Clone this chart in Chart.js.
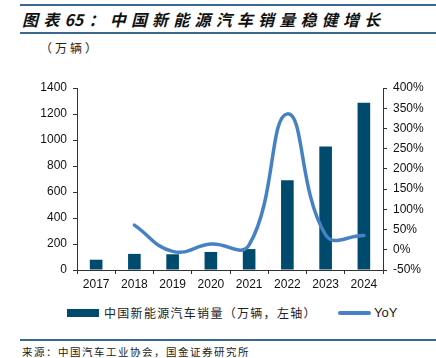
<!DOCTYPE html>
<html><head><meta charset="utf-8">
<script src="https://cdn.jsdelivr.net/npm/chart.js@4"></script>
<style>
html,body{margin:0;padding:0;background:#fff;width:436px;height:358px;overflow:hidden;position:relative;font-family:"Noto Sans CJK SC","Liberation Sans",sans-serif;}
.rule{position:absolute;left:20px;right:0;height:2px;background:#3b6890;}
#title{position:absolute;left:22px;top:8px;font-size:16px;font-weight:bold;font-style:italic;color:#111;letter-spacing:5.2px;line-height:22px;white-space:nowrap;}
#title .num{letter-spacing:0;}
#unit{position:absolute;left:40px;top:39px;font-size:12px;color:#222;line-height:18px;letter-spacing:3px;}
#wrap{position:absolute;left:0;top:60px;width:436px;height:240px;}
#legend{position:absolute;top:304px;left:0;width:436px;height:18px;font-size:12px;color:#222;}
.sw{position:absolute;}
.lt{position:absolute;top:0;line-height:18px;white-space:nowrap;}
#source{position:absolute;left:22px;top:344px;font-size:10.5px;color:#222;line-height:16px;letter-spacing:1.5px;white-space:nowrap;}
</style></head>
<body>
<div class="rule" style="top:4px;"></div>
<div id="title">图表<span class="num">6</span>5：中国新能源汽车销量稳健增长</div>
<div class="rule" style="top:32px;"></div>
<div id="unit">（万辆）</div>
<div id="wrap"><canvas id="c" width="436" height="240"></canvas></div>
<div id="legend">
  <div class="sw" style="left:67px;top:5px;width:32px;height:8px;background:#004a6e;"></div>
  <div class="lt" style="left:104px;letter-spacing:1.3px;">中国新能源汽车销量（万辆，左轴）</div>
  <div class="sw" style="left:338px;top:7px;width:33px;height:3.5px;background:#4682c3;border-radius:2px;"></div>
  <div class="lt" style="left:374px;font-family:'Liberation Sans',sans-serif;font-size:13px;">YoY</div>
</div>
<div class="rule" style="top:339px;height:2px;"></div>
<div id="source">来源：中国汽车工业协会，国金证券研究所</div>
<script>
const categories = ["2017","2018","2019","2020","2021","2022","2023","2024"];
const salesValues = [79, 124, 121, 139, 161, 690, 950, 1287];
const yoyValues = [null, 61, -4, 14, 12, 336, 37, 35];
const leftTicks = [0, 200, 400, 600, 800, 1000, 1200, 1400];
const rightTicks = [-50, 0, 50, 100, 150, 200, 250, 300, 350, 400];

const tickFont = {family: "'Liberation Sans', Arial, sans-serif", size: 12};
const axisColor = '#333';

new Chart(document.getElementById('c'), {
  type: 'bar',
  data: {
    labels: categories,
    datasets: [
      {type: 'line', label: 'YoY', data: yoyValues, yAxisID: 'y1', borderColor: '#4682c3', borderWidth: 3.5,
       pointRadius: 0, tension: 0.45, fill: false, order: 0, borderCapStyle: 'round'},
      {type: 'bar', label: '中国新能源汽车销量（万辆，左轴）', data: salesValues, yAxisID: 'y', backgroundColor: '#004a6e',
       barPercentage: 0.33, categoryPercentage: 1.0, order: 1}
    ]
  },
  options: {
    responsive: false,
    animation: false,
    layout: {padding: {top: 28, bottom: 0, left: 0, right: 0}},
    plugins: {legend: {display: false}, tooltip: {enabled: false}},
    scales: {
      x: {
        grid: {display: true, drawOnChartArea: false, drawTicks: true, tickLength: 4, color: axisColor, offset: true},
        border: {display: true, color: axisColor, width: 1},
        ticks: {font: tickFont, color: '#111', padding: 3, maxRotation: 0},
        afterFit: s => { s.height = 30; }
      },
      y: {
        position: 'left', min: 0, max: 1400,
        afterBuildTicks: s => { s.ticks = leftTicks.map(v => ({value: v})); },
        grid: {display: true, drawOnChartArea: false, drawTicks: true, tickLength: 4, color: axisColor},
        border: {display: true, color: axisColor, width: 1},
        ticks: {font: tickFont, color: '#111', padding: 6, callback: v => String(v)},
        afterFit: s => { s.width = 77; }
      },
      y1: {
        position: 'right', min: -50, max: 400,
        afterBuildTicks: s => { s.ticks = rightTicks.map(v => ({value: v})); },
        grid: {display: true, drawOnChartArea: false, drawTicks: true, tickLength: 4, color: axisColor},
        border: {display: true, color: axisColor, width: 1},
        ticks: {font: tickFont, color: '#111', padding: 6, callback: v => v + '%'},
        afterFit: s => { s.width = 53; }
      }
    }
  }
});
</script>
</body></html>
